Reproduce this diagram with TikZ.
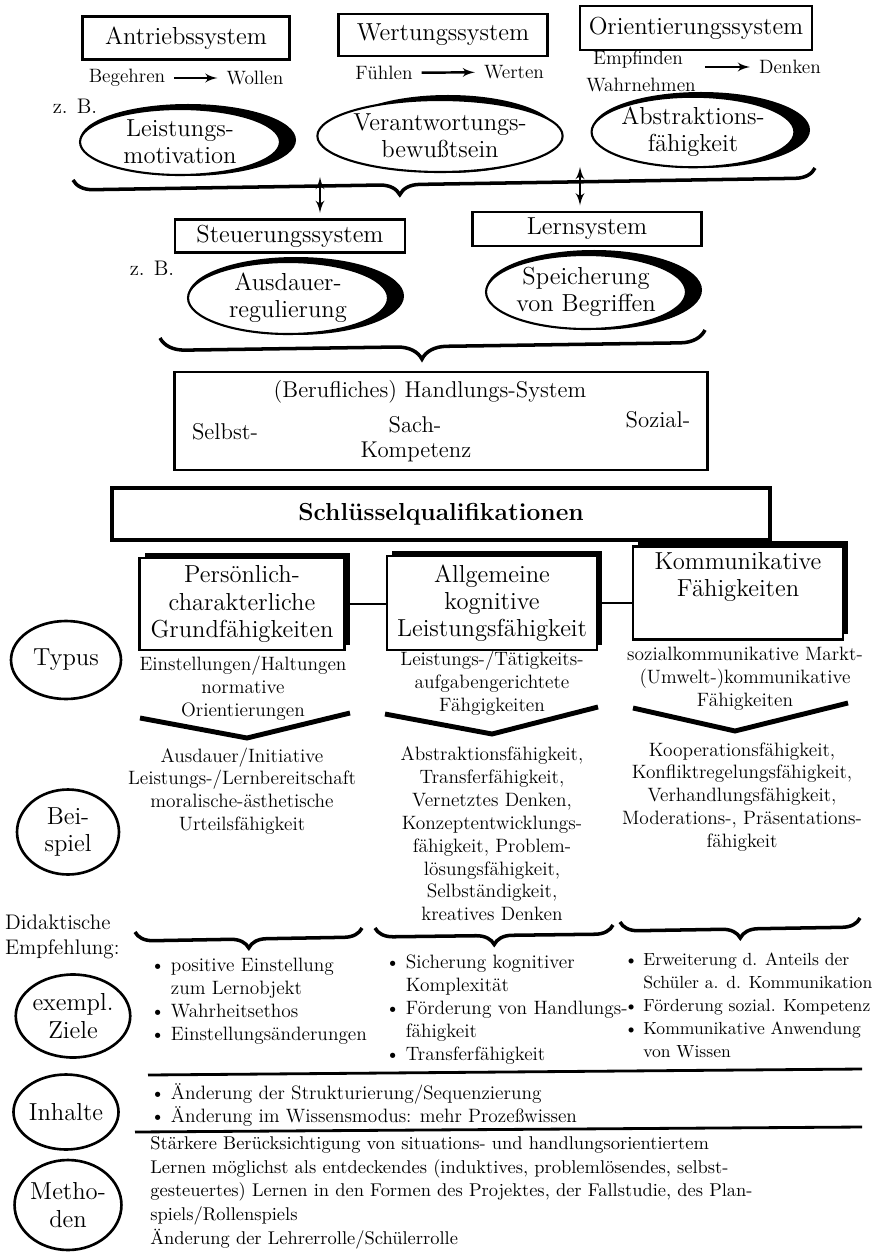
\documentclass[tikz,border=0pt]{standalone}
\usepackage{tikz}
\usetikzlibrary{arrows}
\usetikzlibrary{shapes.geometric}
\usetikzlibrary{shadows}
\usetikzlibrary{decorations.pathreplacing}
\newcommand{\itm}{\textbullet\hspace{0.3em}}
\newcommand{\ind}{\phantom{\textbullet}\hspace{0.3em}}

\begin{document}
\begin{tikzpicture}[x=0.02cm, y=-0.02cm]
		\tikzset{sysbox/.style={draw, line width=1.6pt, inner sep=0pt, font=\fontsize{14}{16}\selectfont}}
		\tikzset{oval/.style={shape=ellipse, draw, fill=white, line width=1.2pt, inner sep=0pt, align=center, font=\fontsize{14}{15.5}\selectfont}}
		\tikzset{sidelabel/.style={shape=ellipse, draw, line width=1.5pt, inner sep=0pt, align=center, font=\fontsize{14}{15.5}\selectfont}}
		\tikzset{colbox/.style={draw, fill=white, line width=1.2pt, inner sep=0pt, align=center,
				general shadow={fill=black, shadow xshift=3pt, shadow yshift=3pt},
				font=\fontsize{14}{15.5}\selectfont}}
		\tikzset{word/.style={inner sep=1pt, font=\fontsize{11}{13}\selectfont}}
		\tikzset{body/.style={inner sep=0pt, align=center, font=\fontsize{11}{13}\selectfont}}
		\tikzset{items/.style={inner sep=0pt, align=left, anchor=north west, font=\fontsize{11}{13}\selectfont}}
		\tikzset{flow/.style={->, > = latex', line width=1.4pt, shorten <=4pt, shorten >=4pt}}
		\tikzset{both/.style={<->, > = latex', line width=1.4pt}}
		\tikzset{curly/.style={decorate, line width=2pt, decoration={brace, mirror, amplitude=#1}}}
		\tikzset{chevron/.style={line width=2.8pt, line join=miter}}
		\useasboundingbox (0,0) rectangle (876,1256);
					%systems
					\node[sysbox, minimum width=4.14cm, minimum height=0.86cm] (antrieb) at (186,38) {Antriebssystem};
					\node[sysbox, minimum width=4.18cm, minimum height=0.84cm] (wertung) at (443,35) {Wertungssystem};
					\node[sysbox, minimum width=4.64cm, minimum height=0.88cm] (orient) at (696,28) {Orientierungssystem};
					\node[word] (begehren) at (127,78) {Begehren};
					\node[word] (wollen) at (255,78) {Wollen};
					\node[word] (fuehlen) at (384,73) {Fühlen};
					\node[word] (werten) at (514,72) {Werten};
					\node[word] (empf) at (638,60) {Empfinden};
					\node[word] (wahr) at (641,85) {Wahrnehmen};
					\node[word] (denken) at (790,67) {Denken};
					\draw[flow] (begehren) -- (wollen);
					\draw[flow] (fuehlen) -- (werten);
					\draw[flow] (denken.west -| wahr.east) -- (denken.west);
					%examples
					\node[word, font=\fontsize{12}{14}\selectfont] (zb1) at (75,106) {z. B.};
					\fill (188,140) ellipse [x radius=108, y radius=36];
					\node[oval, minimum width=4cm, minimum height=1.32cm] (leist) at (180,142) {Leistungs-\\motivation};
					\fill (448,134) ellipse [x radius=110, y radius=39];
					\node[oval, minimum width=4.04cm, minimum height=1.44cm] (verant) at (440,136) {Verantwortungs-\\bewußtsein};
					\fill (701,130) ellipse [x radius=109, y radius=38];
					\node[oval, minimum width=4.04cm, minimum height=1.4cm] (abstr) at (693,132) {Abstraktions-\\fähigkeit};
					\draw[curly=0.4cm, decoration={aspect=0.44}] (73,180) -- (815,168);
					%second level
					\coordinate (up1) at (320,177);
					\coordinate (up2) at (580,167);
					\node[sysbox, minimum width=4.6cm, minimum height=0.66cm] (steuer) at (290,236) {Steuerungssystem};
					\node[sysbox, minimum width=4.58cm, minimum height=0.68cm] (lern) at (587,229) {Lernsystem};
					\draw[both] (up1) -- ([yshift=3pt]up1 |- steuer.north);
					\draw[both] (up2) -- ([yshift=3pt]up2 |- lern.north);
					\node[word, font=\fontsize{12}{14}\selectfont] (zb2) at (152,268) {z. B.};
					\fill (296,296) ellipse [x radius=108, y radius=39];
					\node[oval, minimum width=4cm, minimum height=1.44cm] (ausdauer) at (288,298) {Ausdauer-\\regulierung};
					\fill (594,290) ellipse [x radius=108, y radius=40];
					\node[oval, minimum width=4cm, minimum height=1.48cm] (speicher) at (586,292) {Speicherung\\von Begriffen};
					\draw[curly=0.5cm, decoration={aspect=0.48}] (160,338) -- (705,330);
					%handlungs-system
					\node[sysbox, line width=1.3pt, minimum width=10.66cm, minimum height=1.96cm] (handl) at (441,421) {};
					\node[word, font=\fontsize{13}{15}\selectfont] (hstitle) at (430,392) {(Berufliches) Handlungs-System};
					\node[word, font=\fontsize{13}{15}\selectfont] (selbst) at (225,432) {Selbst-};
					\node[word, font=\fontsize{13}{15}\selectfont] (sach) at (415,425) {Sach-};
					\node[word, font=\fontsize{13}{15}\selectfont] (sozial) at (658,420) {Sozial-};
					\node[word, font=\fontsize{13}{15}\selectfont] (kompetenz) at (416,452) {Kompetenz};
					\node[draw, line width=2.6pt, minimum width=13.16cm, minimum height=1.04cm, font=\bfseries\fontsize{14}{16}\selectfont] (schluessel) at (441,514) {Schlüsselqualifikationen};
					%columns
					\node[colbox, minimum width=4.1cm, minimum height=1.84cm] (pers) at (242,604) {Persönlich-\\charakterliche\\Grundfähigkeiten};
					\node[colbox, minimum width=4.2cm, minimum height=1.88cm] (allg) at (492,603) {Allgemeine\\kognitive\\Leistungsfähigkeit};
					\node[colbox, minimum width=4.2cm, minimum height=1.86cm] (komm) at (738,593) {Kommunikative\\Fähigkeiten\\[6pt]\mbox{}};
					\draw[line width=1.3pt] (pers.east) -- (pers.east -| allg.west);
					\draw[line width=1.3pt] (allg.east) -- (allg.east -| komm.west);
					\node[body] (typ1) at (243,688) {Einstellungen/Haltungen\\normative\\Orientierungen};
					\node[body] (typ2) at (492,683) {Leistungs-/Tätigkeits-\\aufgabengerichtete\\Fähgigkeiten};
					\node[body] (typ3) at (745,679) {sozialkommunikative Markt-\\(Umwelt-)kommunikative\\Fähigkeiten};
					\draw[chevron] (140,718) -- (247,738) -- (350,713);
					\draw[chevron] (385,714) -- (492,734) -- (598,707);
					\draw[chevron] (633,708) -- (735,731) -- (848,703);
					\node[body] (bsp1) at (242,791) {Ausdauer/Initiative\\Leistungs-/Lernbereitschaft\\moralische-ästhetische\\Urteilsfähigkeit};
					\node[body] (bsp2) at (492,834) {Abstraktionsfähigkeit,\\Transferfähigkeit,\\Vernetztes Denken,\\Konzeptentwicklungs-\\fähigkeit, Problem-\\lösungsfähigkeit,\\Selbständigkeit,\\kreatives Denken};
					\node[body] (bsp3) at (742,797) {Kooperationsfähigkeit,\\Konfliktregelungsfähigkeit,\\Verhandlungsfähigkeit,\\Moderations-, Präsentations-\\fähigkeit};
					%didactics
					\node[word, align=left, anchor=west, font=\fontsize{12}{14}\selectfont] (didakt) at (3,937) {Didaktische\\Empfehlung:};
					\draw[curly=0.36cm] (135,932) -- (362,928);
					\draw[curly=0.36cm] (375,928) -- (613,925);
					\draw[curly=0.36cm] (620,922) -- (860,918);
					\node[items] (ziel1) at (150,958) {\itm positive Einstellung\\\ind zum Lernobjekt\\\itm Wahrheitsethos\\\itm Einstellungsänderungen};
					\node[items] (ziel2) at (385,955) {\itm Sicherung kognitiver\\\ind Komplexität\\\itm Förderung von Handlungs-\\\ind fähigkeit\\\itm Transferfähigkeit};
					\node[items, font=\fontsize{10}{13}\selectfont] (ziel3) at (624,953) {\itm Erweiterung d. Anteils der\\\ind Schüler a. d. Kommunikation\\\itm Förderung sozial. Kompetenz\\\itm Kommunikative Anwendung\\\ind von Wissen};
					\draw[line width=1.6pt] (148,1075) -- (862,1069);
					\node[items] (inhalt) at (150,1083) {\itm Änderung der Strukturierung/Sequenzierung\\\itm Änderung im Wissensmodus: mehr Prozeßwissen};
					\draw[line width=1.6pt] (135,1132) -- (862,1127);
					\node[items, font=\fontsize{10.5}{13.5}\selectfont] (methode) at (150,1136) {Stärkere Berücksichtigung von situations- und handlungsorientiertem\\Lernen möglichst als entdeckendes (induktives, problemlösendes, selbst-\\gesteuertes) Lernen in den Formen des Projektes, der Fallstudie, des Plan-\\spiels/Rollenspiels\\Änderung der Lehrerrolle/Schülerrolle};
					%side labels
					\node[sidelabel, minimum width=2.2cm, minimum height=1.56cm] (typus) at (66,660) {Typus};
					\node[sidelabel, minimum width=2.04cm, minimum height=1.7cm] (beispiel) at (68,832) {Bei-\\spiel};
					\node[sidelabel, minimum width=2.06cm, minimum height=1.66cm] (ziele) at (73,1016) {exempl.\\Ziele};
					\node[sidelabel, minimum width=2.06cm, minimum height=1.5cm] (inhalte) at (66,1112) {Inhalte};
					\node[sidelabel, minimum width=2cm, minimum height=1.8cm] (methoden) at (68,1205) {Metho-\\den};
					
					\end{tikzpicture}
\end{document}
